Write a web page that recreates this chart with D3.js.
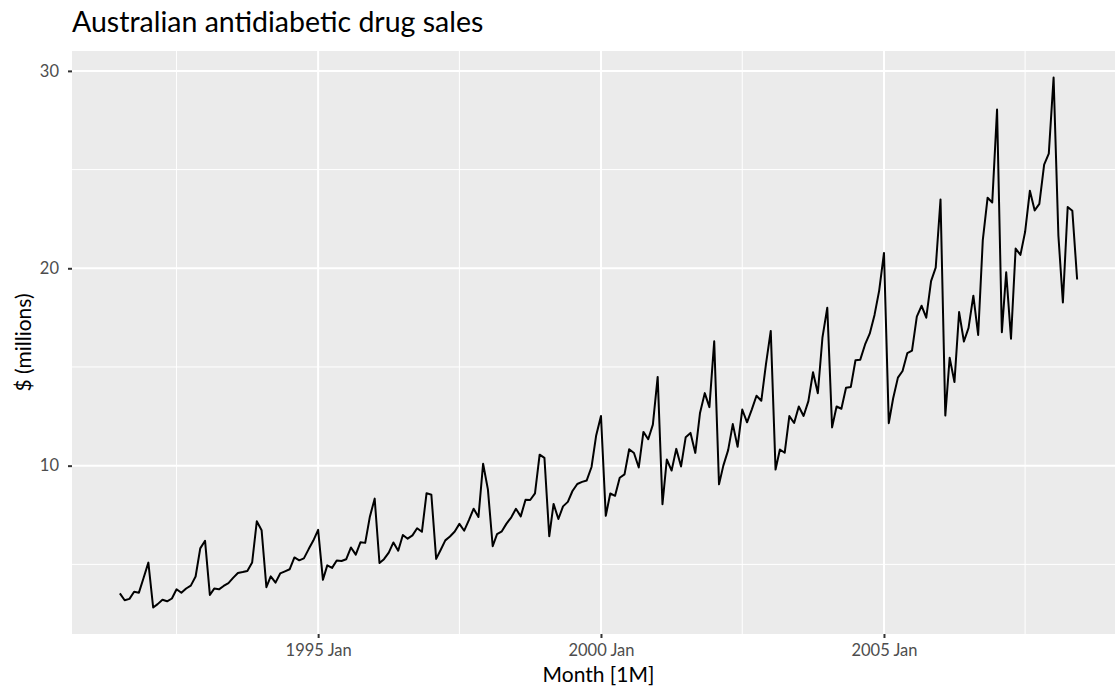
<!DOCTYPE html>
<html>
<head>
<meta charset="utf-8">
<script src="https://cdn.jsdelivr.net/npm/d3@7"></script>
<style>
  body { margin: 0; background: #fff; }
  svg { display: block; font-family: "Lato", "Noto Sans", sans-serif; }
</style>
</head>
<body>
<div id="chart"></div>
<script>
// monthly sales, $ millions, Jul 1991 .. Jun 2008
const firstMonth = [1991, 6]; // year, month index (0 = Jan)
const sales = [
  3.526591, 3.180891, 3.252221, 3.611003, 3.565869, 4.306371,
  5.088335, 2.814520, 2.985811, 3.204780, 3.127578, 3.270523, 3.737851, 3.558776, 3.777202, 3.924490, 4.386531, 5.810549,
  6.192068, 3.450857, 3.772307, 3.734303, 3.905399, 4.049687, 4.315566, 4.562185, 4.608662, 4.667851, 5.093841, 7.179962,
  6.731473, 3.841278, 4.394076, 4.075341, 4.540645, 4.645615, 4.752193, 5.350605, 5.204455, 5.301651, 5.773742, 6.204593,
  6.749484, 4.216067, 4.949349, 4.823045, 5.194754, 5.170787, 5.256742, 5.855277, 5.490729, 6.115293, 6.088473, 7.416598,
  8.329452, 5.069796, 5.262557, 5.597126, 6.110296, 5.689161, 6.486849, 6.300569, 6.467476, 6.828629, 6.649216, 8.606443,
  8.524471, 5.277918, 5.714303, 6.214529, 6.411929, 6.667716, 7.050831, 6.704919, 7.250988, 7.819733, 7.398101, 10.096233,
  8.798513, 5.918261, 6.534493, 6.675736, 7.064201, 7.383381, 7.813496, 7.431892, 8.275117, 8.260441, 8.596156, 10.558939,
  10.391416, 6.421535, 8.062619, 7.297739, 7.936916, 8.165323, 8.717420, 9.070964, 9.177113, 9.251887, 9.933136, 11.532974,
  12.511462, 7.457199, 8.591191, 8.474000, 9.386803, 9.560399, 10.834295, 10.643751, 9.908162, 11.710041, 11.340151, 12.079132,
  14.497581, 8.049275, 10.312891, 9.753358, 10.850382, 9.961719, 11.443601, 11.659239, 10.647060, 12.652134, 13.674466, 12.965735,
  16.300269, 9.053485, 10.002449, 10.788750, 12.106705, 10.954101, 12.844566, 12.196500, 12.854748, 13.542004, 13.287640, 15.134918,
  16.828350, 9.800215, 10.816994, 10.654223, 12.512323, 12.161210, 12.998046, 12.517276, 13.268658, 14.733622, 13.669382, 16.503966,
  18.003768, 11.938030, 12.997900, 12.882645, 13.943447, 13.989472, 15.339097, 15.370764, 16.142005, 16.685754, 17.636728, 18.869325,
  20.778723, 12.154552, 13.402392, 14.459239, 14.795102, 15.705248, 15.829550, 17.554701, 18.100864, 17.496668, 19.347265, 20.031291,
  23.486694, 12.536987, 15.467018, 14.233539, 17.783058, 16.291602, 16.980282, 18.612189, 16.623343, 21.430241, 23.575517, 23.334206,
  28.038383, 16.763869, 19.792754, 16.427305, 21.000742, 20.681002, 21.834890, 23.930204, 22.930357, 23.263340, 25.250030, 25.806090,
  29.665356, 21.654285, 18.264945, 23.107677, 22.912510, 19.431740
];
const xTickYears = [1995, 2000, 2005];
const xMinorYears = [1992.5, 1997.5, 2002.5, 2007.5];
const yTicks = [10, 20, 30];
const yMinor = [5, 15, 25];

const width = 1115, height = 686;
const panel = { left: 72, right: 1125, top: 51, bottom: 634 };
const FONT = '"Lato", "Noto Sans", sans-serif';

const data = sales.map((v, i) => ({
  date: new Date(firstMonth[0], firstMonth[1] + i, 1),
  value: v
}));

// ggplot-style 5% expansion on both scales
const xExt = d3.extent(data, d => d.date);
const xPad = (xExt[1] - xExt[0]) * 0.05;
const x = d3.scaleTime()
  .domain([new Date(+xExt[0] - xPad), new Date(+xExt[1] + xPad)])
  .range([panel.left, panel.right]);

const yExt = d3.extent(data, d => d.value);
const yPad = (yExt[1] - yExt[0]) * 0.05;
const y = d3.scaleLinear()
  .domain([yExt[0] - yPad, yExt[1] + yPad])
  .range([panel.bottom, panel.top]);

const yearDate = yr => {
  const whole = Math.floor(yr);
  return new Date(whole, Math.round((yr - whole) * 12), 1);
};

const svg = d3.select('#chart').append('svg')
  .attr('width', width).attr('height', height);

svg.append('rect')
  .attr('x', panel.left).attr('y', panel.top)
  .attr('width', panel.right - panel.left).attr('height', panel.bottom - panel.top)
  .attr('fill', '#ebebeb');

const grid = svg.append('g');
// minor grid
grid.selectAll('.ymin').data(yMinor).join('line')
  .attr('x1', panel.left).attr('x2', panel.right)
  .attr('y1', d => y(d)).attr('y2', d => y(d))
  .attr('stroke', '#fff').attr('stroke-width', 1);
grid.selectAll('.xmin').data(xMinorYears).join('line')
  .attr('y1', panel.top).attr('y2', panel.bottom)
  .attr('x1', d => x(yearDate(d))).attr('x2', d => x(yearDate(d)))
  .attr('stroke', '#fff').attr('stroke-width', 1);
// major grid
grid.selectAll('.ymaj').data(yTicks).join('line')
  .attr('x1', panel.left).attr('x2', panel.right)
  .attr('y1', d => y(d)).attr('y2', d => y(d))
  .attr('stroke', '#fff').attr('stroke-width', 2);
grid.selectAll('.xmaj').data(xTickYears).join('line')
  .attr('y1', panel.top).attr('y2', panel.bottom)
  .attr('x1', d => x(new Date(d, 0, 1))).attr('x2', d => x(new Date(d, 0, 1)))
  .attr('stroke', '#fff').attr('stroke-width', 2);

// series
svg.append('path')
  .datum(data)
  .attr('fill', 'none')
  .attr('stroke', '#000')
  .attr('stroke-width', 2)
  .attr('stroke-linejoin', 'round')
  .attr('d', d3.line().x(d => x(d.date)).y(d => y(d.value)));

// axes
const fmt = d3.timeFormat('%Y %b');
const xAxis = svg.append('g')
  .attr('transform', `translate(0,${panel.bottom})`)
  .call(d3.axisBottom(x)
    .tickValues(xTickYears.map(yr => new Date(yr, 0, 1)))
    .tickFormat(fmt).tickSize(4).tickPadding(6));
const yAxis = svg.append('g')
  .attr('transform', `translate(${panel.left},0)`)
  .call(d3.axisLeft(y).tickValues(yTicks).tickSize(4).tickPadding(9));

[xAxis, yAxis].forEach(a => {
  a.select('.domain').remove();
  a.selectAll('.tick line').attr('stroke', '#333').attr('stroke-width', 2);
  a.selectAll('.tick text')
    .attr('fill', '#4d4d4d')
    .attr('font-size', 16.5)
    .attr('font-family', FONT);
});

svg.append('text')
  .attr('x', (panel.left + panel.right) / 2)
  .attr('y', 682)
  .attr('text-anchor', 'middle')
  .attr('font-size', 21)
  .attr('fill', '#000')
  .text('Month [1M]');

svg.append('text')
  .attr('transform', `translate(31,${(panel.top + panel.bottom) / 2}) rotate(-90)`)
  .attr('text-anchor', 'middle')
  .attr('font-size', 21)
  .attr('fill', '#000')
  .text('$ (millions)');

svg.append('text')
  .attr('x', panel.left)
  .attr('y', 32)
  .attr('font-size', 28.5)
  .attr('fill', '#000')
  .text('Australian antidiabetic drug sales');
</script>
</body>
</html>
